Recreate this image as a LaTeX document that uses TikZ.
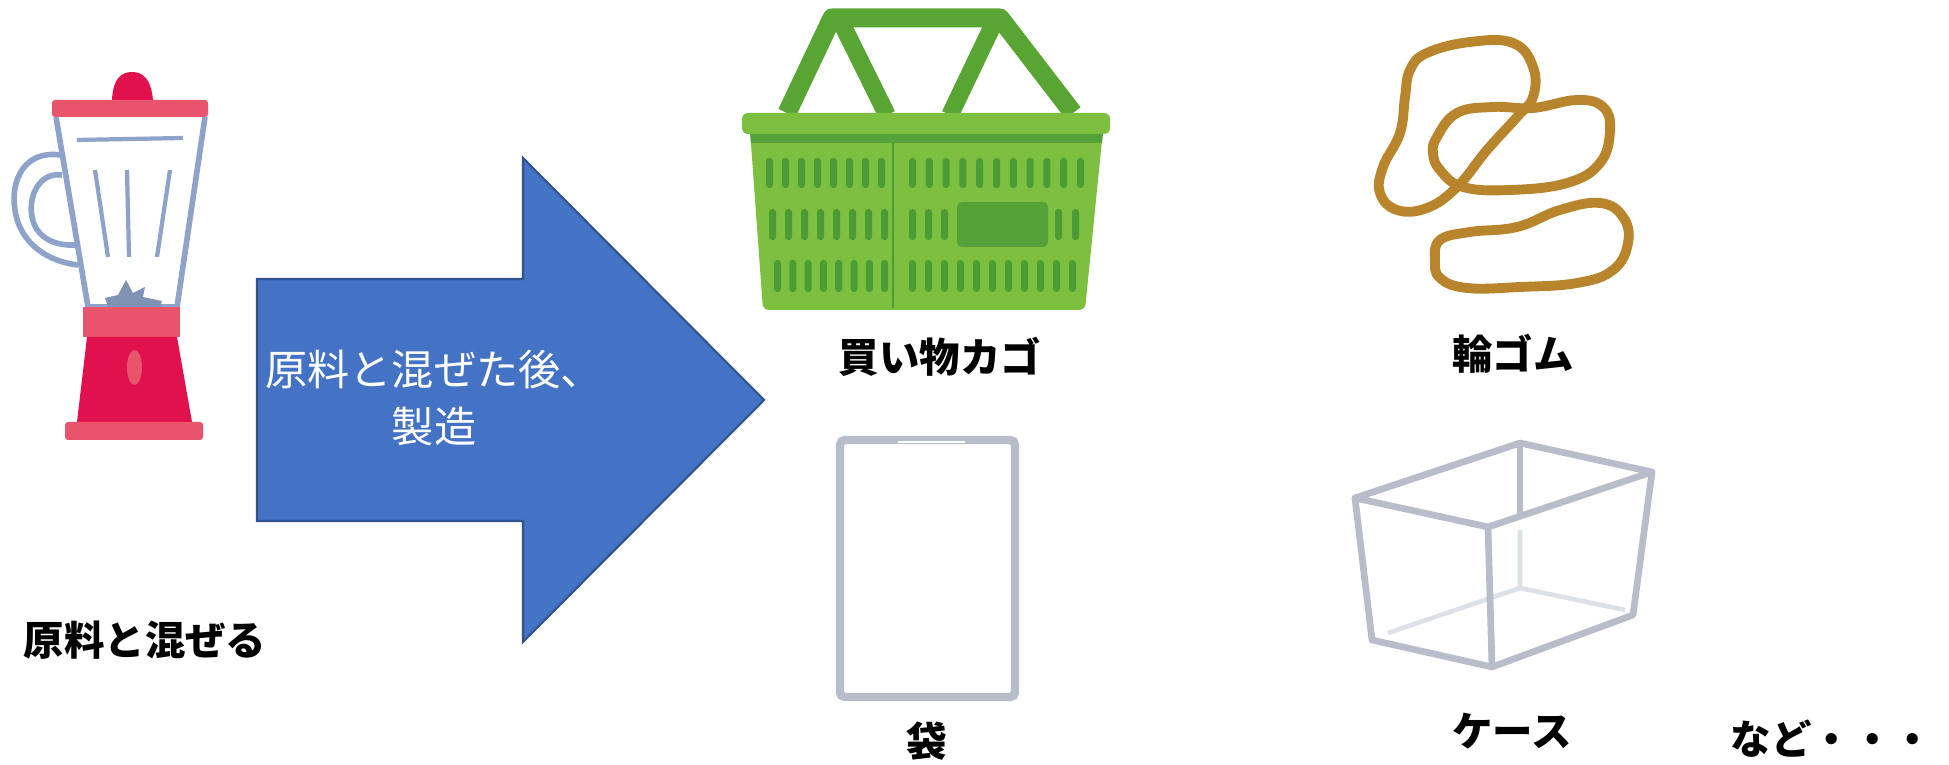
\documentclass[tikz,border=0pt]{standalone}
\usepackage{fontspec}
\newfontfamily\jp{Noto Sans CJK JP}
\definecolor{arrowfill}{HTML}{4472C4}
\definecolor{arrowline}{HTML}{2F528F}
\definecolor{bandred}{HTML}{E8546C}
\definecolor{bodyred}{HTML}{E0114C}
\definecolor{jarblue}{HTML}{8EA3C9}
\definecolor{basketgreen}{HTML}{7DBF3E}
\definecolor{handlegreen}{HTML}{58A533}
\definecolor{slotgreen}{HTML}{4B9C36}
\definecolor{rubber}{HTML}{B8842C}
\definecolor{clear}{HTML}{B7BDC9}
\definecolor{clearfaint}{HTML}{DCE0E8}
\tikzset{
  label/.style={font=\jp\bfseries\fontsize{11.5}{14}\selectfont, text=black},
  slot/.style={slotgreen, rounded corners=0.9pt},
  band/.style={rubber, line width=2.8pt},
}
\begin{document}
\begin{tikzpicture}[x=0.01cm,y=-0.01cm]
			\useasboundingbox (0,0) rectangle (1949,765);

			% blender
			\fill[bodyred] (112,100) .. controls (113,79) and (121,72) .. (132,72) .. controls (143,72) and (151,79) .. (153,100) -- cycle;
			\draw[jarblue, line width=1.6pt] (60,155) .. controls (25,150) and (10,180) .. (15,210) .. controls (20,245) and (50,262) .. (78,265);
			\draw[jarblue, line width=1.6pt] (62,175) .. controls (40,172) and (28,195) .. (32,217) .. controls (36,238) and (55,246) .. (75,245);
			\draw[jarblue, line width=1.6pt, fill=white] (56,117) -- (88,307) -- (177,307) -- (205,117);
			\fill[bandred, rounded corners=0.85pt] (52,100) rectangle (208,117);
			\draw[jarblue, line width=1.2pt] (77,140) -- (183,138);
			\draw[jarblue, line width=1.2pt] (95,170) -- (108,257);
			\draw[jarblue, line width=1.2pt] (127,170) -- (129,257);
			\draw[jarblue, line width=1.2pt] (170,170) -- (157,257);
			\fill[jarblue!90!black] (105,298) -- (118,295) -- (126,280) -- (133,293) -- (145,287) -- (143,297) -- (162,301) -- (160,307) -- (108,307) -- cycle;
			\fill[bandred] (83,307) rectangle (180,337);
			\fill[bodyred] (87,337) -- (177,337) -- (192,422) -- (77,422) -- cycle;
			\fill[bandred] (134.5,367.5) ellipse (7.5 and 17.5);
			\fill[bandred, rounded corners=0.85pt] (65,422) rectangle (203,440);
			\node[label] (mix) at (145,640) {原料と混ぜる};

			% arrow
			\draw[fill=arrowfill, draw=arrowline, line width=0.6pt] (257,279) -- (523,279) -- (523,158) -- (764,400) -- (523,642) -- (523,521) -- (257,521) -- cycle;
			\node[font=\jp\fontsize{12}{16.2}\selectfont, text=white, align=center] (make) at (434,398) {原料と混ぜた後、\\製造};

			% basket
			\draw[handlegreen, line width=5.4pt, line join=round] (787,113) -- (832,18) -- (1000,18) -- (1073,113);
			\draw[handlegreen, line width=5pt] (840,20) -- (887,115);
			\draw[handlegreen, line width=5pt] (993,25) -- (950,115);
			\fill[basketgreen, rounded corners=1.7pt] (750,130) -- (1103,130) -- (1085,310) -- (763,310) -- cycle;
			\fill[slotgreen!80!basketgreen] (750,133) -- (1103,133) -- (1102,143) -- (751,143) -- cycle;
			\fill[basketgreen, rounded corners=1.7pt] (742,113) rectangle (1110,134);
			\draw[slotgreen, line width=0.8pt] (893,143) -- (893,308);
			\foreach \i in {0,...,7}{
				\fill[slot] (766+\i*16,158) rectangle (773+\i*16,188);
				\fill[slot] (769+\i*16,209) rectangle (776+\i*16,240);
				\fill[slot] (774+\i*15.3,260) rectangle (781+\i*15.3,292);
			}
			\foreach \i in {0,...,10}{
				\fill[slot] (909+\i*16.8,158) rectangle (916+\i*16.8,188);
				\fill[slot] (909+\i*16,260) rectangle (916+\i*16,292);
			}
			\foreach \x in {909,925,941,1055,1072}{
				\fill[slot] (\x,209) rectangle (\x+7,240);
			}
			\fill[slotgreen!85!basketgreen, rounded corners=1.4pt] (957,202) rectangle (1048,247);
			\node[label] (basket) at (940,357) {買い物カゴ};

			% rubber bands
			\draw[band] plot[smooth cycle, tension=0.7] coordinates {(1427,53) (1470,42) (1513,43) (1533,67) (1533,97) (1517,117) (1487,150) (1457,187) (1427,208) (1397,210) (1380,193) (1383,167) (1400,133) (1405,97) (1410,70)};
			\draw[band] plot[smooth cycle, tension=0.7] coordinates {(1437,137) (1457,113) (1493,107) (1533,108) (1577,100) (1603,107) (1610,130) (1600,163) (1567,183) (1510,190) (1463,187) (1440,170) (1433,153)};
			\draw[band] plot[smooth cycle, tension=0.7] coordinates {(1440,240) (1470,232) (1517,227) (1560,210) (1600,203) (1623,217) (1628,243) (1613,270) (1577,283) (1520,287) (1467,288) (1440,278) (1435,260)};
			\node[label] (rubber) at (1513,354) {輪ゴム};

			% bag
			\draw[clear, line width=2.4pt, rounded corners=1.4pt] (840,440) rectangle (1015,697);
			\draw[white, line width=0.5pt] (898,442) -- (965,442);
			\node[label] (bag) at (927,741) {袋};

			% case
			\draw[clearfaint, line width=1.3pt] (1520,530) -- (1520,588) -- (1388,633);
			\draw[clearfaint, line width=1.3pt] (1520,588) -- (1625,610);
			\draw[clear, line width=1.9pt, line join=round] (1355,498) -- (1520,443) -- (1652,472) -- (1488,527) -- cycle;
			\draw[clear, line width=1.9pt] (1520,443) -- (1520,517);
			\draw[clear, line width=1.9pt, line join=round] (1355,498) -- (1372,640) -- (1492,667) -- (1488,527);
			\draw[clear, line width=1.9pt, line join=round] (1652,472) -- (1633,615) -- (1492,667);
			\node[label] (case) at (1512,731) {ケース};

			\node[label] (etc) at (1832,739) {など・・・};
\end{tikzpicture}
\end{document}
